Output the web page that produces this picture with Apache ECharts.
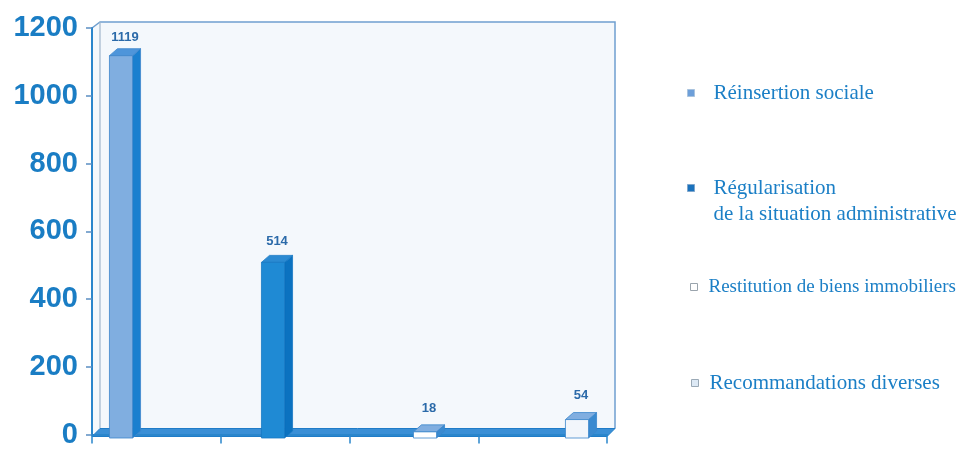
<!DOCTYPE html>
<html><head><meta charset="utf-8">
<script src="https://cdn.jsdelivr.net/npm/echarts@6/dist/echarts.min.js"></script>
<style>html,body{margin:0;padding:0;background:#fff}#c{width:964px;height:449px}</style>
</head><body><div id="c"></div>
<script>
const categories = ['Réinsertion sociale', 'Régularisation\nde la situation administrative', 'Restitution de biens immobiliers', 'Recommandations diverses'];
const values = [1119, 514, 18, 54];
const yMin = 0, yMax = 1200, yStep = 200;

const faceColors = [
  {front:'#80aee0', side:'#1a7fcf', top:'#4e95da', stroke:'#3d86cc'},
  {front:'#1f8ad4', side:'#0b72c0', top:'#2b8ad2', stroke:'#1878c4'},
  {front:'#ffffff', side:'#3a8ad0', top:'#80aee0', stroke:'#3a86cc'},
  {front:'#f2f6fb', side:'#3a8ad0', top:'#80aee0', stroke:'#3a86cc'}
];
const legendIcons = [
  {color:'#6d9fd9', borderColor:'#a9c3de', borderWidth:1},
  {color:'#1a72bd', borderColor:'#7fa6cc', borderWidth:1},
  {color:'#ffffff', borderColor:'#9aa4ad', borderWidth:1},
  {color:'#dde9f5', borderColor:'#9aa9b6', borderWidth:1}
];
const legendLeft = [687, 687, 690, 691];
const legendCenter = [93, 188, 287, 383];
const legendPad = [14, 14, 6, 6];
const legendFont = [21, 21, 19, 21];
const DX = 8, DY = -7;

function barRender(i) {
  return function (params, api) {
    const x = api.value(0), v = api.value(1);
    const top = api.coord([x, v]);
    const base = api.coord([x, 0]);
    const band = api.size([1, 0])[0];
    const w = band * 0.152;
    const l = top[0] - w / 2, r = top[0] + w / 2;
    const c = faceColors[i];
    const gap = 17 - 6 * v / yMax;
    return {
      type: 'group',
      children: [
        {type:'polygon', shape:{points:[[r, top[1]], [r + DX, top[1] + DY], [r + DX, base[1] + DY], [r, base[1]]]}, style:{fill:c.side, stroke:c.stroke, lineWidth:0.8}},
        {type:'polygon', shape:{points:[[l, top[1]], [r, top[1]], [r + DX, top[1] + DY], [l + DX, top[1] + DY]]}, style:{fill:c.top, stroke:c.stroke, lineWidth:0.8}},
        {type:'rect', shape:{x:l, y:top[1], width:w, height:base[1] - top[1]}, style:{fill:c.front, stroke:c.stroke, lineWidth:0.8}},
        {type:'text', x: top[0] + DX / 2, y: top[1] + DY - gap, style:{text:String(v), fill:'#2b6aa9', font:'bold 13px "Liberation Sans", Arial, sans-serif', align:'center', verticalAlign:'middle'}}
      ]
    };
  };
}

function wallRender(params, api) {
  const cs = params.coordSys;
  const x0 = cs.x, x1 = cs.x + cs.width, y0 = cs.y, y1 = cs.y + cs.height;
  const dy = -6;
  return {
    type: 'group',
    children: [
      {type:'polygon', shape:{points:[[x0, y0], [x0 + DX, y0 + dy], [x1 + DX, y0 + dy], [x1 + DX, y1 + dy], [x0 + DX, y1 + dy], [x0, y1]]}, style:{fill:'#f4f8fc', stroke:null}},
      {type:'polyline', shape:{points:[[x0, y0], [x0 + DX, y0 + dy], [x1 + DX, y0 + dy], [x1 + DX, y1 + dy]]}, style:{stroke:'#6f9fcf', lineWidth:1.5, fill:null}},
      {type:'line', shape:{x1:x0 + DX, y1:y0 + dy, x2:x0 + DX, y2:y1 + dy}, style:{stroke:'#9fb6cc', lineWidth:1.2}},
      {type:'polygon', shape:{points:[[x0, y1 + 2], [x1, y1 + 2], [x1 + DX, y1 + dy], [x0 + DX, y1 + dy]]}, style:{fill:'#3a8fd6', stroke:'#1f7cc8', lineWidth:1}}
    ]
  };
}

const series = [{
  type:'custom', name:'__wall', coordinateSystem:'cartesian2d', xAxisIndex:0, yAxisIndex:0,
  renderItem: wallRender, data:[[0, 0]], silent:true, z:1
}];
categories.forEach((name, i) => {
  series.push({
    type:'custom', name, coordinateSystem:'cartesian2d', xAxisIndex:1, yAxisIndex:1,
    itemStyle:{color: legendIcons[i].color},
    renderItem: barRender(i), data:[[i, values[i]]], silent:true, z:5
  });
});

const serif = '"Liberation Serif", "Times New Roman", serif';
const legends = categories.map((name, i) => {
  const lines = name.split('\n');
  let fmt;
  if (lines.length > 1) fmt = '{s| }\n' + lines.map(t => '{t|' + t + '}').join('\n');
  else fmt = '{t|' + name + '}';
  const nLines = lines.length > 1 ? 3 : 1;
  return {
    data:[{name, itemStyle: legendIcons[i], icon:'rect'}],
    orient:'vertical', left: legendLeft[i], top: legendCenter[i] - nLines * 13,
    padding:0, itemWidth:7, itemHeight:7, selectedMode:false,
    formatter: () => fmt,
    textStyle:{fontFamily:serif, fontSize:legendFont[i], color:'#1b7fc6', lineHeight:26,
      rich:{
        t:{fontFamily:serif, fontSize:legendFont[i], color:'#1b7fc6', lineHeight:26, padding:[0, 0, 0, legendPad[i]]},
        s:{fontSize:legendFont[i], lineHeight:26}
      }}
  };
});

const chart = echarts.init(document.getElementById('c'), null, {renderer:'canvas'});
chart.setOption({
  animation:false,
  backgroundColor:'#ffffff',
  grid:[
    {left:92, right:357, top:28, bottom:11},
    {left:45, right:311, top:28, bottom:11}
  ],
  legend: legends,
  xAxis:[
    {type:'category', gridIndex:0, data:categories, boundaryGap:true, z:3,
      axisLine:{show:true, lineStyle:{color:'#2a86cc', width:2}},
      axisTick:{show:true, interval:0, alignWithLabel:false, length:9, lineStyle:{color:'#2a86cc', width:1.5}},
      axisLabel:{show:false}},
    {type:'category', gridIndex:1, data:categories, show:false}
  ],
  yAxis:[
    {type:'value', gridIndex:0, min:yMin, max:yMax, interval:yStep, z:3,
      splitLine:{show:false},
      axisLine:{show:true, lineStyle:{color:'#2a86cc', width:2}},
      axisTick:{show:true, length:6, lineStyle:{color:'#5b8fc2', width:1.5}},
      axisLabel:{margin:14, color:'#1a7dc4', fontFamily:'"Liberation Sans", Arial, sans-serif', fontWeight:'bold', fontSize:29,
        formatter: v => String(v)}},
    {type:'value', gridIndex:1, min:yMin, max:yMax, interval:yStep, show:false}
  ],
  series
});
</script></body></html>
